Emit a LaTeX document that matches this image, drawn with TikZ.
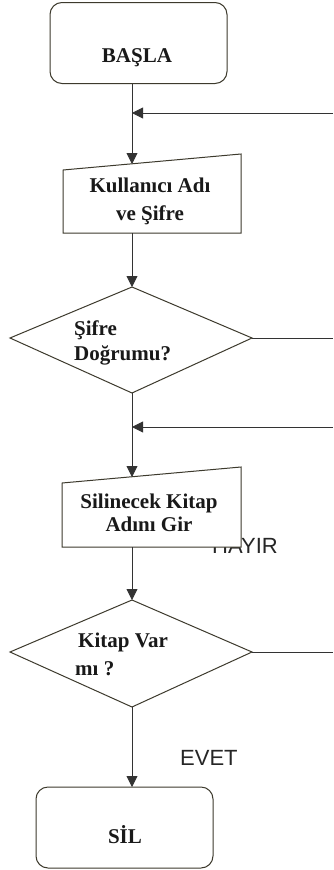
\documentclass[tikz,border=0pt]{standalone}
\usepackage{fontspec}
\setmainfont{Liberation Serif}
\newfontfamily\arialf{Liberation Sans}
\usetikzlibrary{arrows.meta}
\begin{document}
\begin{tikzpicture}[x=1pt,y=-1pt,
  line/.style={draw=black!80, line width=0.9pt},
  arr/.style={line, -{Triangle[width=11pt,length=11pt]}},
  shp/.style={draw=black!75!olive, line width=1pt, fill=white},
  term/.style={shp, rounded corners=12pt, inner sep=0pt},
  txt/.style={font=\fontsize{21}{25}\selectfont\bfseries, inner sep=0pt, anchor=base, text=black!90},
  ltxt/.style={txt, anchor=base west},
  lbl/.style={font=\arialf\fontsize{22}{26}\selectfont, inner sep=0pt, anchor=base west, text=black!85},
]
\useasboundingbox[fill=white] (0,0) rectangle (333,870);

% start terminal
\node[term, minimum width=177pt, minimum height=81pt] (start) at (138.5,43) {};
\node[txt] (startT) at (137,62) {BAŞLA};

% manual input 1
\coordinate (i1a) at (63,170);
\coordinate (i1b) at (241,154);
\coordinate (i1c) at (241,233);
\coordinate (i1d) at (63,233);
\draw[shp] (i1a) -- (i1b) -- (i1c) -- (i1d) -- cycle;
\node[txt] (i1t1) at (150,192) {Kullanıcı Adı};
\node[txt] (i1t2) at (150,220) {ve Şifre};

% decision 1
\coordinate (d1t) at (132,287);
\coordinate (d1r) at (252,338);
\coordinate (d1b) at (132,393);
\coordinate (d1l) at (10,338);
\draw[shp] (d1t) -- (d1r) -- (d1b) -- (d1l) -- cycle;
\node[ltxt] (d1t1) at (74,335) {Şifre};
\node[ltxt] (d1t2) at (74,360) {Doğrumu?};

% HAYIR label (partly hidden behind the box)
\node[lbl] (hayir) at (212,553) {HAYIR};

% manual input 2
\coordinate (i2a) at (62,483);
\coordinate (i2b) at (241,467);
\coordinate (i2c) at (241,547);
\coordinate (i2d) at (62,547);
\draw[shp] (i2a) -- (i2b) -- (i2c) -- (i2d) -- cycle;
\node[txt] (i2t1) at (149,508) {Silinecek Kitap};
\node[txt] (i2t2) at (149,531) {Adını Gir};

% decision 2
\coordinate (d2t) at (132,600);
\coordinate (d2r) at (252,652);
\coordinate (d2b) at (132,707);
\coordinate (d2l) at (10,652);
\draw[shp] (d2t) -- (d2r) -- (d2b) -- (d2l) -- cycle;
\node[ltxt] (d2t1) at (78,647) {Kitap Var};
\node[ltxt] (d2t2) at (75,675) {mı ?};

% end terminal
\node[term, minimum width=177pt, minimum height=81pt] (sil) at (124.5,827.5) {};
\node[txt] (silT) at (125,843) {SİL};

\node[lbl] (evet) at (180,765) {EVET};

% connectors
\coordinate (s0) at (132,84);
\coordinate (i1top) at (132,164);
\coordinate (i1bot) at (132,233);
\coordinate (i2top) at (132,477);
\coordinate (i2bot) at (132,547);
\coordinate (silTop) at (132,787);
\coordinate (j1) at (132,113);
\coordinate (r1) at (333,113);
\coordinate (j2) at (132,427);
\coordinate (r2) at (333,427);
\coordinate (e1) at (333,338);
\coordinate (e2) at (333,652);

\draw[arr] (s0) -- (i1top);
\draw[arr] (i1bot) -- (d1t);
\draw[arr] (d1b) -- (i2top);
\draw[arr] (i2bot) -- (d2t);
\draw[arr] (d2b) -- (silTop);
\draw[arr] (r1) -- (j1);
\draw[arr] (r2) -- (j2);
\draw[line] (d1r) -- (e1);
\draw[line] (d2r) -- (e2);
\end{tikzpicture}
\end{document}
